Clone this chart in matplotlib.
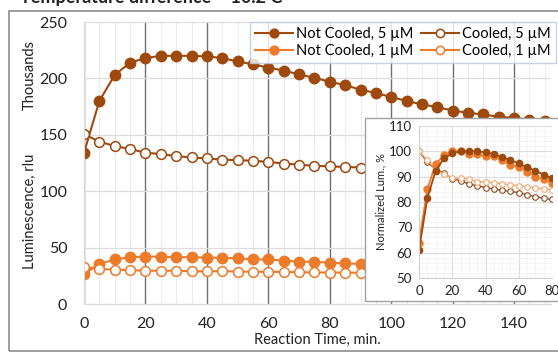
import matplotlib
matplotlib.use("Agg")
import matplotlib.pyplot as plt
from matplotlib.patches import Rectangle
from matplotlib.ticker import MultipleLocator, FixedLocator

plt.rcParams['font.family'] = ['Lato', 'DejaVu Sans']

# main chart, thousands of rlu, every 5 min
time = list(range(0, 155, 5))
not_cooled_5 = [134, 180, 203, 214, 218, 220, 220, 220, 219.5, 218, 215, 212.5, 209.5, 207, 203.5,
                200.5, 197, 194, 190, 187, 183.5, 180, 177, 174.5, 171.5, 169.5, 168, 166, 165, 163.5, 162]
cooled_5 = [150.5, 144, 140, 137.5, 134, 133, 131, 130, 129, 128, 127.5, 127, 126, 124.5, 123.5,
            122.5, 122, 121.5, 121, 121, 120.5, 120, 119.5, 119, 118.5, 118, 117.5, 117, 116.5, 116, 115.5]
not_cooled_1 = [26.5, 35.5, 39.5, 41.5, 42, 42, 41.5, 41.5, 41, 41, 40.5, 39.5, 39.5, 38.5, 37.5,
                37.5, 36.5, 36, 35.5, 35, 34.5, 34, 33.5, 33, 32.5, 32, 31.5, 31, 30.5, 30, 29.5]
cooled_1 = [33, 31, 30.5, 30, 29.5, 29.5, 29.5, 29, 29, 29, 28.8, 28.6, 28.6, 28.4, 28.2,
            28, 27.9, 27.8, 27.7, 27.5, 27.3, 27.1, 27, 26.8, 26.6, 26.5, 26.3, 26.1, 26, 25.8, 25.6]

# inset, normalized %, 0-80 min
t_norm = list(range(0, 85, 5))
norm_nc5 = [61, 81.5, 92.3, 97.2, 99.2, 100, 100, 100, 99.6, 99, 97.8, 96.6, 95.2, 93.8, 92.3, 90.8, 89.4]
norm_c5 = [100, 95.7, 93, 91.4, 89.2, 88.4, 87.1, 86.4, 85.7, 85.1, 84.6, 84.2, 83.7, 82.8, 82.1, 81.5, 81]
norm_nc1 = [64, 85, 95, 98.5, 100, 100, 99, 99, 98, 98, 96.5, 94.5, 94, 92, 90, 89, 87.5]
norm_c1 = [100, 96.5, 93, 91, 89.5, 89.5, 89, 88, 88, 87.5, 87.3, 86.7, 86.5, 86, 85.5, 85.2, 84.7]

DARK = '#9E4A0E'
ORANGE = '#EC7B2A'
LIGHT = '#F2A86E'
DARK_THIN = '#8A4A22'

fig = plt.figure(figsize=(5.58, 3.52), dpi=100)

# outer frame
fig.patches.append(Rectangle((9 / 558, 1 / 352), 1.1, 340 / 352, transform=fig.transFigure,
                             fill=False, edgecolor='#8c8c8c', linewidth=1.2, zorder=0))
fig.text(20 / 558, 1 - 3 / 352, "Temperature difference ~ 10.2 C", fontsize=13,
         fontweight='bold', va='baseline', ha='left', color='#222222')

ax = fig.add_axes([84 / 558, 48 / 352, 467 / 558, 282 / 352])
ax.plot(time, not_cooled_5, '-o', color=DARK, mfc=DARK, mec=DARK, ms=7.5, lw=1.5, label='Not Cooled, 5 µM')
ax.plot(time, not_cooled_1, '-o', color=ORANGE, mfc=ORANGE, mec=ORANGE, ms=7.5, lw=1.5, label='Not Cooled, 1 µM')
ax.plot(time, cooled_5, '-o', color=DARK, mfc='white', mec=DARK, ms=7, mew=1.1, lw=1.5, label='Cooled, 5 µM')
ax.plot(time, cooled_1, '-o', color=ORANGE, mfc='white', mec=ORANGE, ms=7, mew=1.1, lw=1.5, label='Cooled, 1 µM')

ax.set_xlim(0, 152)
ax.set_ylim(0, 250)
ax.xaxis.set_major_locator(MultipleLocator(20))
ax.xaxis.set_minor_locator(FixedLocator([m for m in range(5, 155, 5) if m % 20]))
ax.yaxis.set_major_locator(MultipleLocator(50))
ax.grid(True, which='minor', axis='x', color='#ececec', lw=0.8)
ax.grid(True, which='major', axis='y', color='#dcdcdc', lw=0.9)
ax.grid(True, which='major', axis='x', color='#707070', lw=1)
ax.set_axisbelow(True)
for s in ax.spines.values():
    s.set_visible(False)
ax.spines['left'].set_visible(True)
ax.spines['left'].set_color('#d9d9d9')
ax.spines['bottom'].set_visible(True)
ax.spines['bottom'].set_color('#d9d9d9')
ax.tick_params(which='both', length=0, labelsize=11.5, colors='#222222')
ax.tick_params(axis='y', pad=12)
ax.tick_params(axis='x', pad=9)
ax.set_xlabel("Reaction Time, min.", fontsize=10.5, labelpad=2, color='#222222')

fig.text(30 / 558, 1 - 211 / 352, "Luminescence, rlu", rotation=90, fontsize=10.5,
         va='center', ha='center', color='#222222')
fig.text(30 / 558, 1 - 75 / 352, "Thousands", rotation=90, fontsize=10.5,
         va='center', ha='center', color='#222222')

handles, labels = ax.get_legend_handles_labels()
leg = ax.legend(handles, labels, ncol=2, loc='upper right', bbox_to_anchor=(1.01, 1.0),
                fontsize=10.5, frameon=True, fancybox=False, handlelength=2.6,
                columnspacing=0.5, handletextpad=0.2, borderpad=0.35, labelspacing=0.2,
                borderaxespad=0.0, markerscale=0.85)
leg.get_frame().set_edgecolor('#b8c8dc')
leg.get_frame().set_linewidth(1)

# inset box
fig.patches.append(Rectangle((365 / 558, 1 - 301 / 352), 0.5, 183 / 352, transform=fig.transFigure,
                             facecolor='white', edgecolor='#a0a0a0', linewidth=1, zorder=5))

ins = fig.add_axes([419 / 558, 1 - 278 / 352, 133 / 558, 152 / 352], zorder=6)
ins.plot(t_norm, norm_c5, '-o', color=DARK_THIN, mfc='white', mec=DARK_THIN, ms=4, mew=0.8, lw=1)
ins.plot(t_norm, norm_c1, '-o', color=LIGHT, mfc='white', mec=LIGHT, ms=4, mew=0.8, lw=1)
ins.plot(t_norm, norm_nc1, '-o', color=ORANGE, mfc=ORANGE, mec=ORANGE, ms=5, lw=1.3)
ins.plot(t_norm, norm_nc5, '-o', color=DARK, mfc=DARK, mec=DARK, ms=4.5, lw=1.3)
ins.set_xlim(0, 80)
ins.set_ylim(50, 110)
ins.xaxis.set_major_locator(MultipleLocator(20))
ins.xaxis.set_minor_locator(MultipleLocator(5))
ins.yaxis.set_major_locator(MultipleLocator(10))
ins.yaxis.set_minor_locator(MultipleLocator(2))
ins.grid(True, which='major', color='#dcdcdc', lw=0.8)
ins.grid(True, which='minor', color='#f0f0f0', lw=0.5)
ins.set_axisbelow(True)
for s in ins.spines.values():
    s.set_visible(False)
ins.spines['left'].set_visible(True)
ins.spines['left'].set_color('#d0d0d0')
ins.spines['bottom'].set_visible(True)
ins.spines['bottom'].set_color('#d0d0d0')
ins.tick_params(which='both', length=0, labelsize=9.5, colors='#222222', pad=5)
ins.set_ylabel("Normalized Lum., %", fontsize=8, labelpad=2, color='#222222')

fig.savefig("out.png", dpi=100)
